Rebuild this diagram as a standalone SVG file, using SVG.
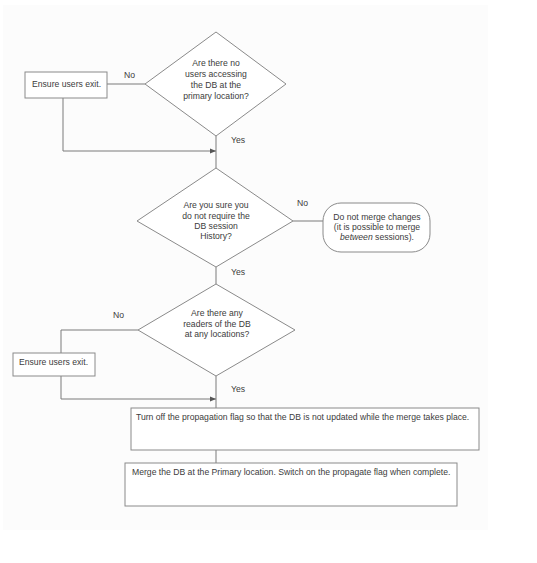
<svg xmlns="http://www.w3.org/2000/svg" width="537" height="563" viewBox="0 0 537 563">
<style>
.s{fill:#ffffff;stroke:#8a8a8a;stroke-width:1}
.l{fill:none;stroke:#7a7a7a;stroke-width:1}
text{font-family:"Liberation Sans",Arial,sans-serif;font-size:8.65px;fill:#3c3c3c}
.c{text-anchor:middle}
</style>
<defs>
<marker id="ah" viewBox="0 0 10 10" refX="10" refY="5" markerWidth="6" markerHeight="6" orient="auto" markerUnits="userSpaceOnUse">
<path d="M0,1 L10,5 L0,9 z" fill="#555"/>
</marker>
</defs>
<rect x="0" y="0" width="537" height="563" fill="#ffffff"/>
<rect x="3" y="5" width="485" height="525" fill="#fcfcfc"/>
<g id="connectors">
<line class="l" x1="107" y1="84" x2="145" y2="84"/>
<polyline class="l" points="63,98 63,151 216,151" marker-end="url(#ah)"/>
<line class="l" x1="216" y1="136" x2="216" y2="168"/>
<line class="l" x1="293" y1="221" x2="323" y2="221"/>
<line class="l" x1="216" y1="267" x2="216" y2="284"/>
<polyline class="l" points="138,330 61,330 61,353"/>
<polyline class="l" points="61,376 61,399 216,399" marker-end="url(#ah)"/>
<line class="l" x1="216" y1="376" x2="216" y2="408"/>
<line class="l" x1="216" y1="450" x2="216" y2="463"/>
<text x="124" y="78">No</text>
<text x="231" y="143">Yes</text>
<text x="297" y="206">No</text>
<text x="231" y="275">Yes</text>
<text x="113" y="318">No</text>
<text x="231" y="392">Yes</text>
</g>
<g id="d1">
<polygon class="s" points="216,32 286,84 216,136 145,84"/>
<text class="c" x="216" y="66">Are there no</text>
<text class="c" x="216" y="77">users accessing</text>
<text class="c" x="216" y="88">the DB at the</text>
<text class="c" x="216" y="99">primary location?</text>
</g>
<g id="b1">
<rect class="s" x="25" y="72" width="82" height="26"/>
<text x="32" y="87">Ensure users exit.</text>
</g>
<g id="d2">
<polygon class="s" points="216,168 293,221 216,267 137,221"/>
<text class="c" x="216" y="208">Are you sure you</text>
<text class="c" x="216" y="219">do not require the</text>
<text class="c" x="216" y="229">DB session</text>
<text class="c" x="216" y="239">History?</text>
</g>
<g id="t1">
<rect class="s" x="323" y="203" width="107" height="49" rx="18" ry="18"/>
<text class="c" x="377" y="220">Do not merge changes</text>
<text class="c" x="377" y="230">(it is possible to merge</text>
<text class="c" x="377" y="240"><tspan font-style="italic">between</tspan> sessions).</text>
</g>
<g id="d3">
<polygon class="s" points="216,284 295,330 216,376 138,330"/>
<text class="c" x="217" y="316">Are there any</text>
<text class="c" x="217" y="327">readers of the DB</text>
<text class="c" x="217" y="337">at any locations?</text>
</g>
<g id="b2">
<rect class="s" x="13" y="353" width="82" height="23"/>
<text x="19" y="365">Ensure users exit.</text>
</g>
<g id="p1">
<rect class="s" x="131" y="408" width="348" height="42"/>
<text x="136" y="420">Turn off the propagation flag so that the DB is not updated while the merge takes place.</text>
</g>
<g id="p2">
<rect class="s" x="125" y="463" width="332" height="43"/>
<text x="132" y="475">Merge the DB at the Primary location. Switch on the propagate flag when complete.</text>
</g>
</svg>
